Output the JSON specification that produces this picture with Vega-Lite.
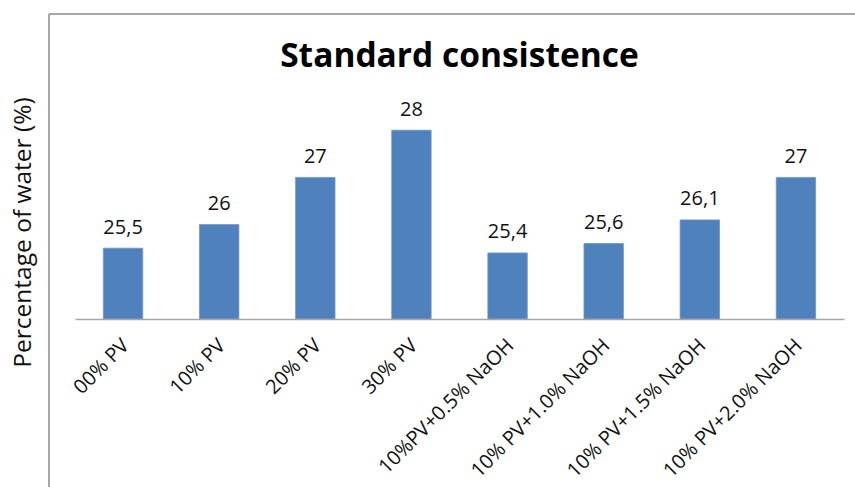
{
  "$schema": "https://vega.github.io/schema/vega-lite/v6.json",
  "width": 769,
  "height": 236,
  "autosize": "none",
  "padding": {"left": 75, "top": 83, "right": 11, "bottom": 168},
  "background": "white",
  "config": {
    "view": {"stroke": null},
    "font": "Open Sans",
    "locale": {"number": {"decimal": ",", "thousands": ".", "grouping": [3], "currency": ["", " €"]}}
  },
  "title": {
    "text": "Standard consistence",
    "font": "Open Sans",
    "fontSize": 33.5,
    "fontWeight": "bold",
    "color": "#000000",
    "anchor": "middle",
    "frame": "group",
    "baseline": "alphabetic",
    "offset": -87
  },
  "resolve": {"scale": {"x": "independent"}},
  "layer": [
    {
      "data": {
        "values": [
          {"sample": "00% PV", "water": 25.5},
          {"sample": "10% PV", "water": 26},
          {"sample": "20% PV", "water": 27},
          {"sample": "30% PV", "water": 28},
          {"sample": "10%PV+0.5% NaOH", "water": 25.4},
          {"sample": "10% PV+1.0% NaOH", "water": 25.6},
          {"sample": "10% PV+1.5% NaOH", "water": 26.1},
          {"sample": "10% PV+2.0% NaOH", "water": 27}
        ]
      },
      "encoding": {
        "x": {
          "field": "sample",
          "type": "nominal",
          "sort": null,
          "scale": {"paddingInner": 0.59, "paddingOuter": 0.295},
          "axis": {
            "title": null,
            "labelAngle": -45,
            "labelAlign": "right",
            "labelBaseline": "middle",
            "labelFont": "Open Sans",
            "labelFontSize": 20,
            "labelColor": "#111111",
            "labelLimit": 400,
            "labelPadding": 23,
            "labelOffset": 3,
            "ticks": false,
            "grid": false,
            "domainColor": "#a6a6a6",
            "domainWidth": 1.5,
            "zindex": 1
          }
        },
        "y": {
          "field": "water",
          "type": "quantitative",
          "scale": {"domain": [24, 29], "zero": false, "nice": false},
          "axis": {
            "title": "Percentage of water (%)",
            "labels": false,
            "ticks": false,
            "domain": false,
            "grid": false,
            "titleFont": "Open Sans",
            "titleFontSize": 24.5,
            "titleFontWeight": "normal",
            "titleColor": "#111111",
            "titleAngle": -90,
            "titleAlign": "center",
            "titleBaseline": "middle",
            "titleX": -52,
            "titleY": 149
          }
        }
      },
      "layer": [
        {
          "mark": {"type": "bar", "color": "#4F81BD", "stroke": "#6f97c9", "strokeWidth": 0.8},
          "encoding": {"y2": {"datum": 24}}
        },
        {
          "mark": {"type": "text", "dy": -14.5, "baseline": "alphabetic", "fontSize": 20, "font": "Open Sans", "color": "#111111"},
          "encoding": {"text": {"field": "water", "type": "quantitative", "format": "~g"}}
        }
      ]
    },
    {
      "data": {"values": [{"part": "chart area frame"}]},
      "layer": [
        {
          "mark": {"type": "rule", "color": "#8c8c8c", "strokeWidth": 1.5},
          "encoding": {
            "x": {"datum": -0.0338, "type": "quantitative", "scale": {"domain": [0, 1], "zero": false, "nice": false}, "axis": null},
            "y": {"datum": 30.462, "type": "quantitative", "scale": {"domain": [24, 29], "zero": false, "nice": false}},
            "y2": {"datum": 20}
          }
        },
        {
          "mark": {"type": "rule", "color": "#8c8c8c", "strokeWidth": 1.5},
          "encoding": {
            "x": {"datum": -0.0338, "type": "quantitative", "scale": {"domain": [0, 1], "zero": false, "nice": false}, "axis": null},
            "x2": {"datum": 1.1},
            "y": {"datum": 30.462, "type": "quantitative", "scale": {"domain": [24, 29], "zero": false, "nice": false}}
          }
        }
      ]
    }
  ]
}
